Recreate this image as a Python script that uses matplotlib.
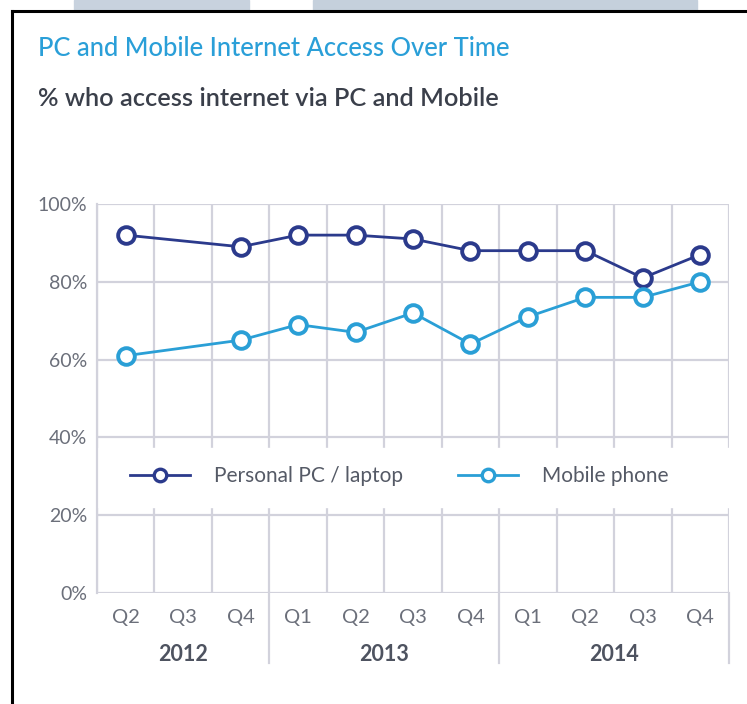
import numpy as np
import matplotlib
matplotlib.use("Agg")
import matplotlib.pyplot as plt
from matplotlib.patches import Rectangle
from matplotlib.lines import Line2D

# ---- data ----
quarters = ["Q2", "Q3", "Q4", "Q1", "Q2", "Q3", "Q4", "Q1", "Q2", "Q3", "Q4"]
years = ["2012", "2013", "2014"]
year_span = [(0, 2), (3, 6), (7, 10)]
pc_laptop = [92, np.nan, 89, 92, 92, 91, 88, 88, 88, 81, 87]
mobile = [61, np.nan, 65, 69, 67, 72, 64, 71, 76, 76, 80]
y_ticks = [0, 20, 40, 60, 80, 100]

PC_COL = "#2b3a8c"
MOB_COL = "#2a9fd6"
GRID_COL = "#d2d2dc"
TXT_COL = "#6b6f7a"

plt.rcParams['font.family'] = ['Lato', 'DejaVu Sans']

W, H = 747, 704
fig = plt.figure(figsize=(W / 100, H / 100), dpi=100)

# screenshot remnants: pale band above the frame, black frame edges
fig.patches.append(Rectangle((74 / W, 1 - 10 / H), 175 / W, 10 / H, transform=fig.transFigure,
                             color="#c8d2de", zorder=0))
fig.patches.append(Rectangle((313 / W, 1 - 10 / H), 384 / W, 10 / H, transform=fig.transFigure,
                             color="#c5d0dc", zorder=0))
fig.lines.append(Line2D([12 / W, 1], [1 - 11 / H, 1 - 11 / H], transform=fig.transFigure,
                        color="black", lw=2.2))
fig.lines.append(Line2D([12 / W, 12 / W], [0, 1 - 11 / H], transform=fig.transFigure,
                        color="black", lw=2.2))

fig.text(38 / W, 1 - 48 / H, "PC and Mobile Internet Access Over Time", color="#2a9fd8",
         fontsize=18.4, fontweight="medium", va="center", ha="left")
fig.text(38 / W, 1 - 98 / H, "% who access internet via PC and Mobile", color="#3a3f4a",
         fontsize=18.3, fontweight="semibold", va="center", ha="left")

ax = fig.add_axes([97 / W, 111 / H, 632 / W, 389 / H])
x = np.arange(len(quarters))

ax.set_xlim(-0.5, len(quarters) - 0.5)
ax.set_ylim(0, 100)
ax.set_axisbelow(True)

# grid: horizontal at y ticks, vertical at cell boundaries
ax.set_yticks(y_ticks)
ax.set_yticklabels([f"{v}%" for v in y_ticks])
ax.set_xticks(np.arange(-0.5, len(quarters)), minor=True)
ax.set_xticks([])
ax.grid(True, axis="y", color=GRID_COL, lw=1.6)
ax.grid(True, axis="x", which="minor", color=GRID_COL, lw=1.6)
ax.tick_params(axis="y", length=0, pad=7, labelsize=14, labelcolor=TXT_COL)
ax.tick_params(axis="x", which="both", length=0)
for s in ["top", "right", "bottom"]:
    ax.spines[s].set_visible(False)
ax.spines["left"].set_color(GRID_COL)
ax.spines["left"].set_linewidth(1.6)

# white strip behind legend hides the grid
ax.axhspan(22, 37.4, color="white", zorder=1)

def draw(vals, col, label):
    v = np.array(vals, dtype=float)
    m = ~np.isnan(v)
    ax.plot(x[m], v[m], color=col, lw=2, marker="o", ms=12, mfc="white",
            mec=col, mew=2.8, label=label, zorder=3, clip_on=False)

draw(pc_laptop, PC_COL, "Personal PC / laptop")
draw(mobile, MOB_COL, "Mobile phone")

leg = ax.legend(loc="center left", bbox_to_anchor=(33 / 632, 0.30), ncol=2, frameon=False,
                borderpad=0, borderaxespad=0, handlelength=2.9, handletextpad=1.15,
                columnspacing=2.6, fontsize=15)
for t in leg.get_texts():
    t.set_color("#555a66")
for h in leg.legend_handles:
    h.set_markersize(9)
    h.set_markeredgewidth(2.4)

# category labels + year groups
xt = ax.get_xaxis_transform()
for i, q in enumerate(quarters):
    ax.text(i, -0.062, q, transform=xt, ha="center", va="center", fontsize=14.5, color=TXT_COL)
for yr, (a, b) in zip(years, year_span):
    ax.text((a + b) / 2, -0.159, yr, transform=xt, ha="center", va="center",
            fontsize=15.5, fontweight="bold", color="#4e5360")
for bx in [2.5, 6.5, 10.5]:
    ax.plot([bx, bx], [0, -0.18], transform=xt, color=GRID_COL, lw=1.6, clip_on=False)

fig.savefig("out.png", dpi=100)
